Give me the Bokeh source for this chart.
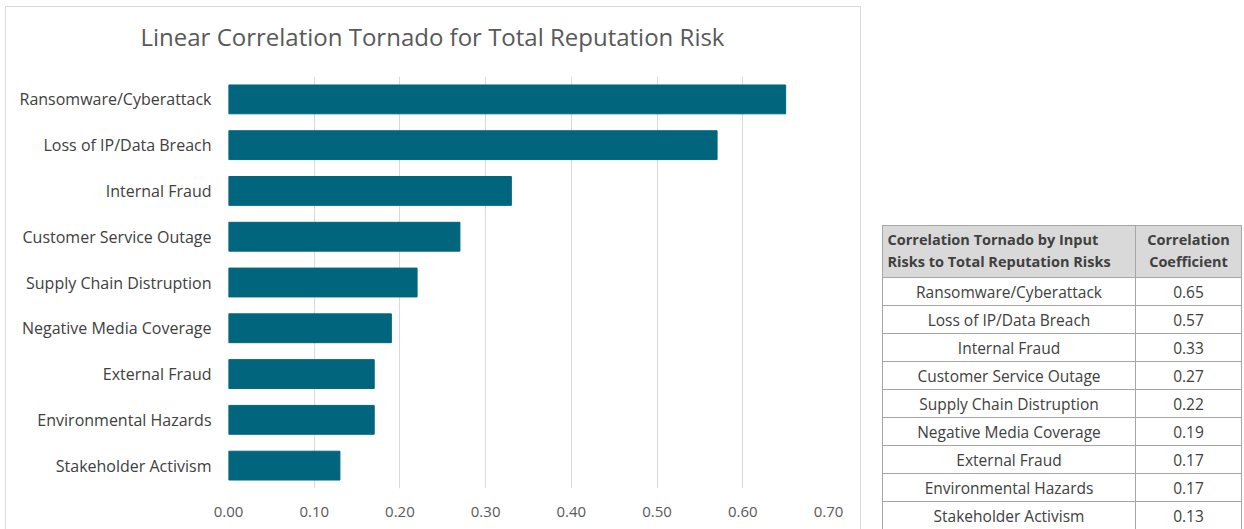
from bokeh.plotting import figure
from bokeh.layouts import row, column
from bokeh.models import Range1d, FactorRange, FixedTicker, NumeralTickFormatter, ColumnDataSource, Title
from bokeh.core.properties import value
from bokeh.embed import file_html
from bokeh.resources import INLINE

# ---- data ----
categories = ["Ransomware/Cyberattack", "Loss of IP/Data Breach", "Internal Fraud",
              "Customer Service Outage", "Supply Chain Distruption", "Negative Media Coverage",
              "External Fraud", "Environmental Hazards", "Stakeholder Activism"]
coefficients = [0.65, 0.57, 0.33, 0.27, 0.22, 0.19, 0.17, 0.17, 0.13]
x_ticks = [0.0, 0.1, 0.2, 0.3, 0.4, 0.5, 0.6, 0.7]
title_text = "Linear Correlation Tornado for Total Reputation Risk"
header_col1 = ["Correlation Tornado by Input", "Risks to Total Reputation Risks"]
header_col2 = ["Correlation", "Coefficient"]

FONT = "Open Sans"
BAR = "#02657E"
TXT = "#404040"

# ---- chart ----
p = figure(width=856, height=523, output_backend="svg", toolbar_location=None,
           y_range=FactorRange(*list(reversed(categories))), x_range=Range1d(0, 0.70),
           min_border_left=222, min_border_right=34, min_border_top=69, min_border_bottom=42,
           margin=(6, 0, 0, 5),
           styles={"border-left": "1px solid #d9d9d9", "border-top": "1px solid #d9d9d9",
                   "border-right": "1px solid #d9d9d9"})
p.outline_line_color = None
p.hbar(y=categories, right=coefficients, left=0, height=0.63, color=BAR)

# spacer (closest to the frame), then the visible title above it
p.add_layout(Title(text=" ", text_font_size="1px", standoff=20), "above")
p.add_layout(Title(text=title_text, align="left", offset=-88, standoff=0, vertical_align="middle",
                   text_font=FONT, text_font_size="24px", text_font_style="normal",
                   text_color="#595959"), "above")

p.xaxis.ticker = FixedTicker(ticks=x_ticks)
p.xaxis.formatter = NumeralTickFormatter(format="0.00")
p.xaxis.axis_line_color = None
p.xaxis.major_tick_line_color = None
p.xaxis.minor_tick_line_color = None
p.xaxis.major_label_standoff = 12
p.xaxis.major_label_text_font = FONT
p.xaxis.major_label_text_font_size = "15px"
p.xaxis.major_label_text_color = "#595959"

p.yaxis.axis_line_color = None
p.yaxis.major_tick_line_color = None
p.yaxis.major_label_standoff = 11
p.yaxis.major_label_text_font = FONT
p.yaxis.major_label_text_font_size = "16px"
p.yaxis.major_label_text_color = TXT

p.ygrid.grid_line_color = None
p.xgrid.grid_line_color = "#d9d9d9"

# ---- table ----
t = figure(width=383, height=529, output_backend="svg", toolbar_location=None,
           x_range=Range1d(861, 1244), y_range=Range1d(529, 0),
           min_border=0, min_border_left=0, min_border_right=0, min_border_top=0, min_border_bottom=0)
t.axis.visible = False
t.grid.visible = False
t.outline_line_color = None

tl, tr, tdiv = 882, 1241, 1135
htop, hbot, rh = 225, 277, 28
n = len(categories)
bottom = hbot + n * rh
LINE = "#a6a6a6"

t.quad(left=[tl], right=[tr], top=[htop], bottom=[hbot], fill_color="#d9d9d9", line_color=None)
ys = [htop, hbot] + [hbot + (i + 1) * rh for i in range(n)]
t.segment(x0=[tl] * len(ys), x1=[tr] * len(ys), y0=ys, y1=ys, line_color=LINE, line_width=1)
t.segment(x0=[tl, tdiv, tr], x1=[tl, tdiv, tr], y0=[htop] * 3, y1=[bottom] * 3, line_color=LINE, line_width=1)

hy = [htop + 14, htop + 36]
t.text(x=[tl + 5] * 2, y=hy, text=header_col1, text_align="left", text_baseline="middle",
       text_font=value(FONT), text_font_size="14.5px", text_font_style="bold", text_color=TXT)
t.text(x=[(tdiv + tr) / 2] * 2, y=hy, text=header_col2, text_align="center", text_baseline="middle",
       text_font=value(FONT), text_font_size="14.5px", text_font_style="bold", text_color=TXT)

src = ColumnDataSource(dict(
    cat=categories,
    val=["%.2f" % v for v in coefficients],
    y=[hbot + (i + 0.5) * rh for i in range(n)],
    x1=[(tl + tdiv) / 2] * n,
    x2=[(tdiv + tr) / 2] * n,
))
t.text(x="x1", y="y", text="cat", source=src, text_align="center", text_baseline="middle",
       text_font=value(FONT), text_font_size="15.5px", text_color=TXT)
t.text(x="x2", y="y", text="val", source=src, text_align="center", text_baseline="middle",
       text_font=value(FONT), text_font_size="15.5px", text_color=TXT)

layout = row(p, column(t))
open("out.html", "w").write(file_html(layout, INLINE))
